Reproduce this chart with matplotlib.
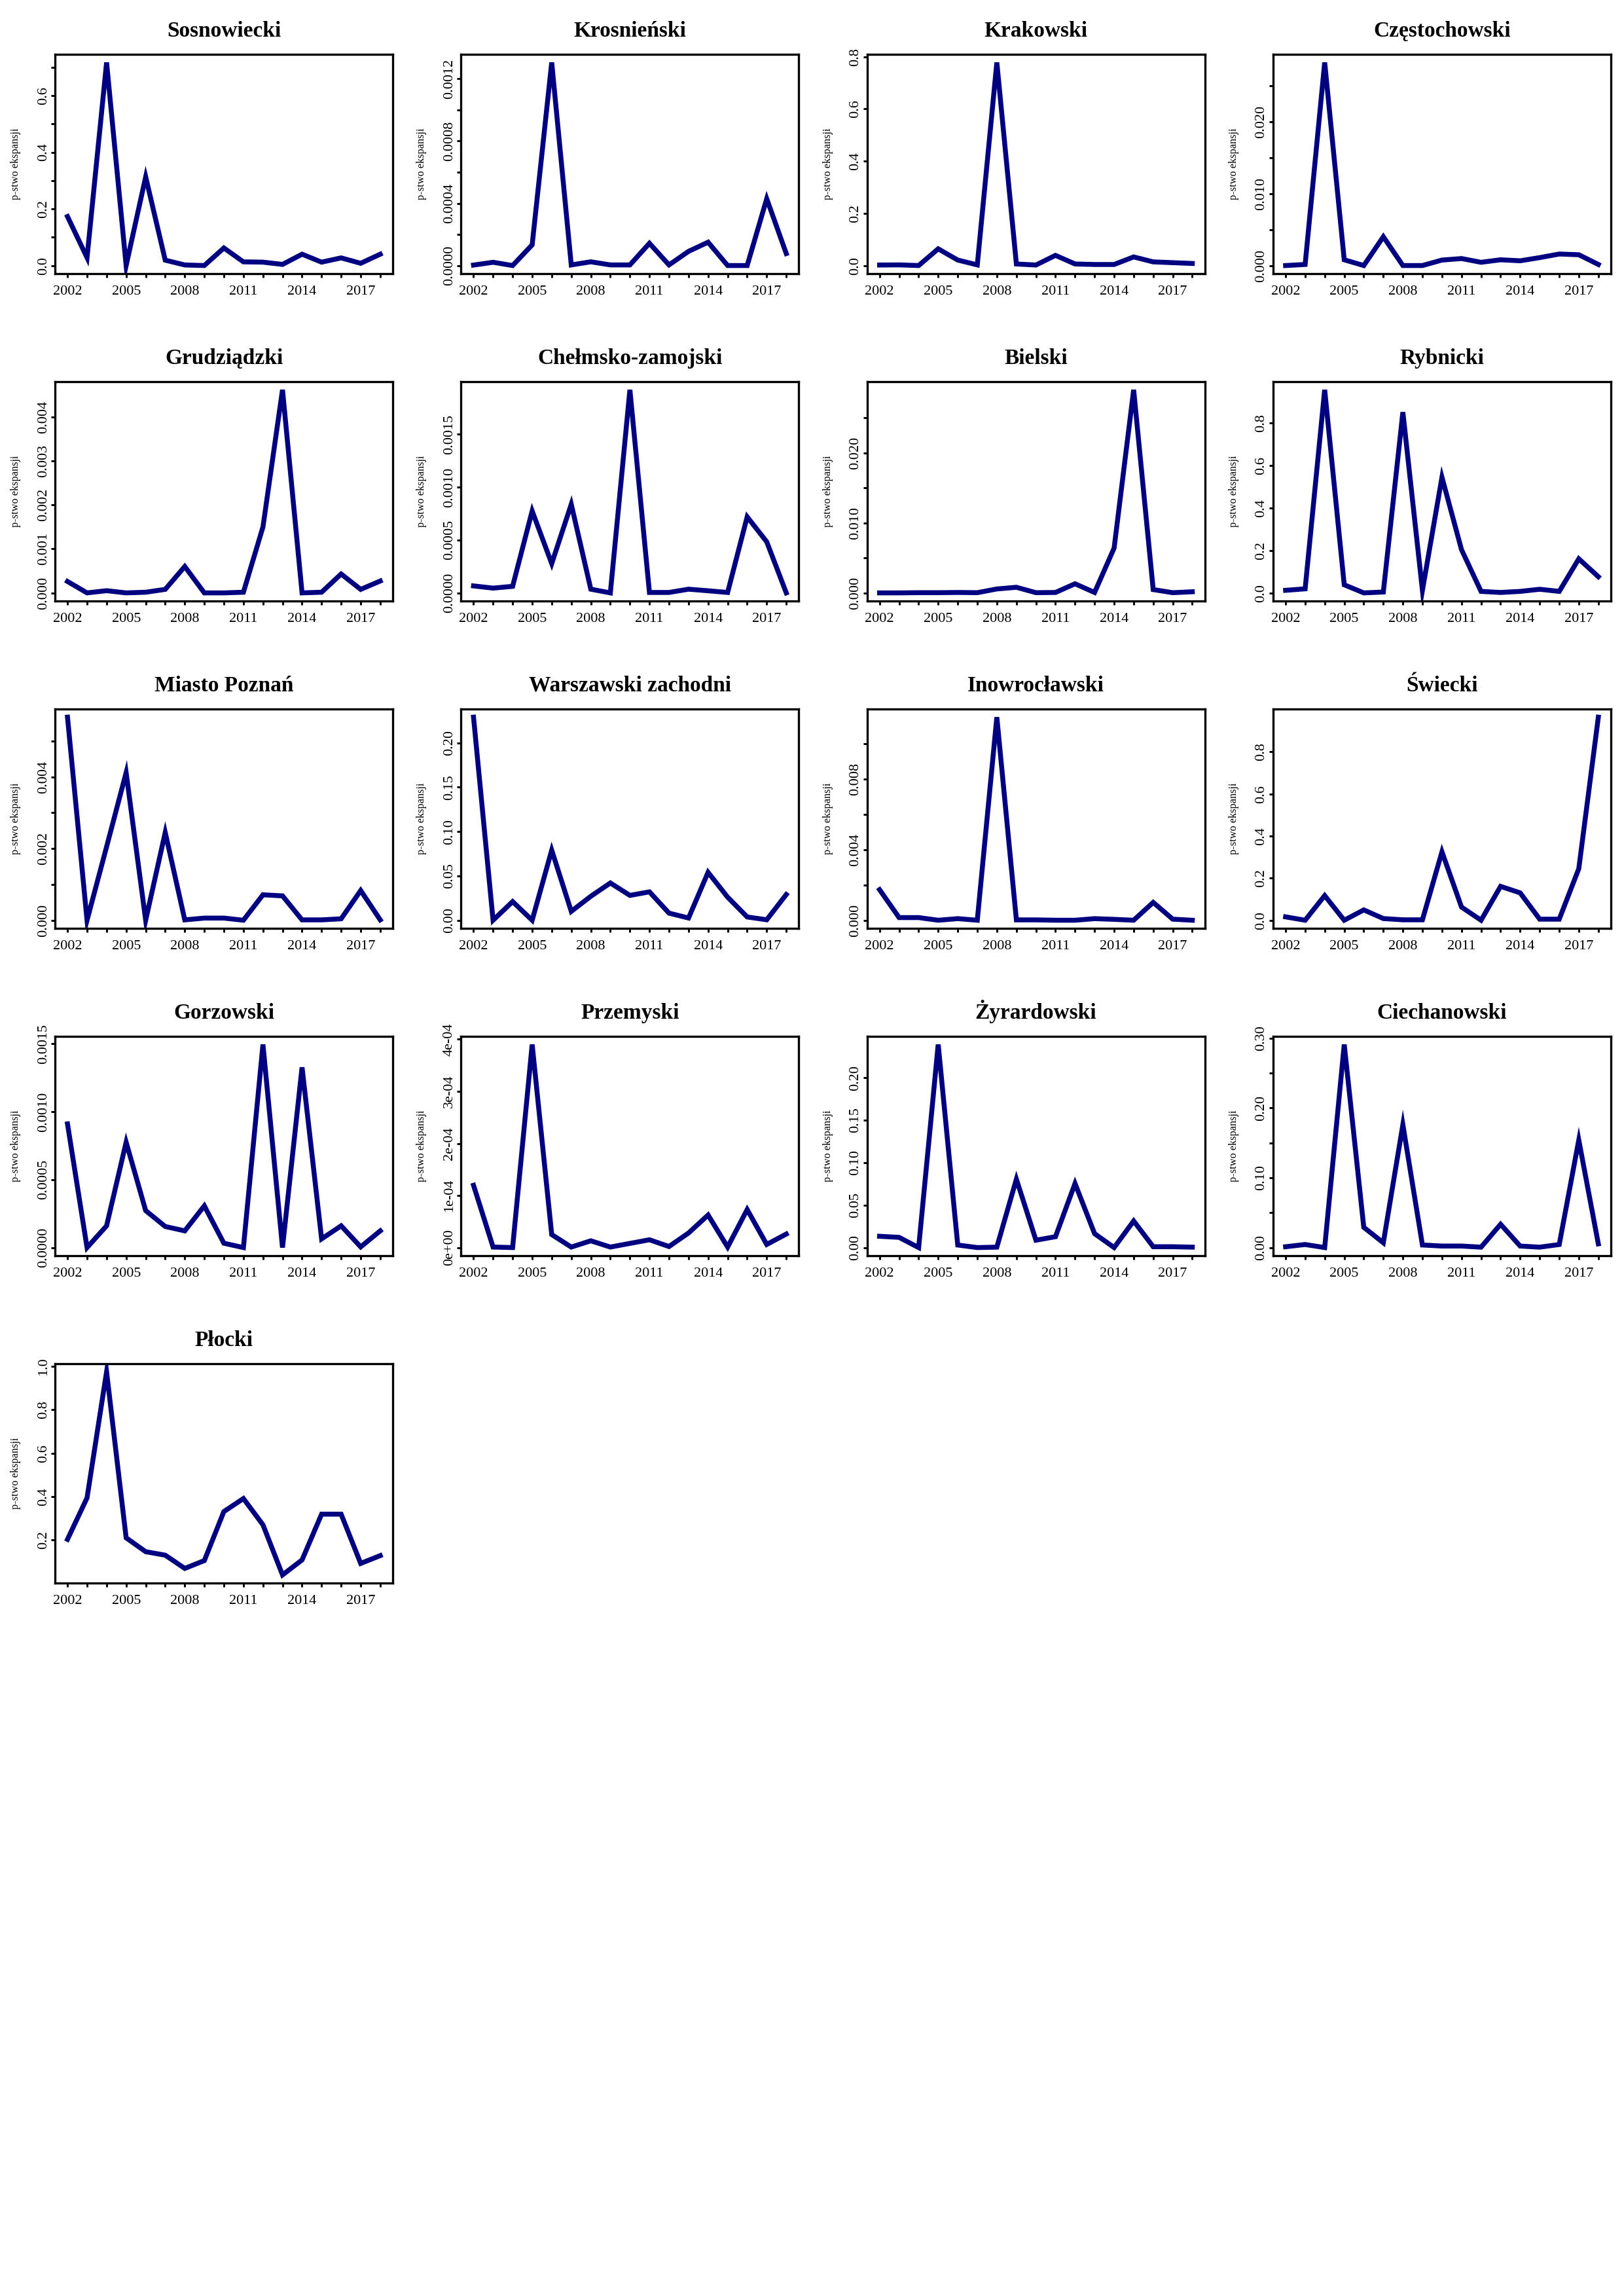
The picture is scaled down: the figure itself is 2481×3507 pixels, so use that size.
import matplotlib
matplotlib.use("Agg")
import matplotlib.pyplot as plt
import numpy as np

plt.rcParams["font.family"] = ["Liberation Serif", "DejaVu Serif"]

years = list(range(2002, 2019))

# odczytane wartosci p-stwa ekspansji dla kazdego podregionu
sosnowiecki = [0.173, 0.028, 0.717, 0.0, 0.313, 0.019, 0.002, 0.0, 0.062, 0.013,
               0.012, 0.004, 0.040, 0.012, 0.027, 0.008, 0.040]
krosnienski = [0.000003, 0.000021, 0.0, 0.000133, 0.001305, 0.000004, 0.000024,
               0.000004, 0.000004, 0.000143, 0.000004, 0.000091, 0.00015, 0.0,
               0.0, 0.000429, 0.000077]
krakowski = [0.002, 0.0025, 0.0, 0.064, 0.021, 0.0025, 0.778, 0.006, 0.002, 0.039,
             0.006, 0.004, 0.004, 0.033, 0.014, 0.011, 0.008]
czestochowski = [0.0, 0.00015, 0.0282, 0.0008, 0.0, 0.004, 0.0, 0.0, 0.00076,
                 0.00097, 0.00045, 0.0008, 0.00066, 0.0011, 0.0016, 0.0015, 0.00015]
grudziadzki = [0.00026, 0.0, 0.00005, 0.0, 0.000015, 0.00008, 0.0006, 0.0, 0.0,
               0.000015, 0.0015, 0.00462, 0.0, 0.000015, 0.00043, 0.00008, 0.00027]
chelmsko = [0.000066, 0.000045, 0.000062, 0.000774, 0.000277, 0.000838, 0.000035,
            0.0, 0.00192, 0.000004, 0.000004, 0.000035, 0.00002, 0.000004,
            0.000719, 0.000483, 0.0]
bielski = [0.0, 0.0, 0.00003, 0.00003, 0.00006, 0.00003, 0.00056, 0.0008, 0.00003,
           0.00006, 0.0013, 0.00006, 0.0064, 0.0290, 0.00047, 0.00003, 0.00016]
rybnicki = [0.013, 0.020, 0.955, 0.039, 0.001, 0.005, 0.850, 0.013, 0.544, 0.204,
            0.008, 0.003, 0.008, 0.018, 0.008, 0.161, 0.077]
poznan = [0.00567, 0.0, 0.00205, 0.00412, 0.0, 0.00245, 0.00001, 0.00006, 0.00006,
          0.0, 0.00071, 0.00068, 0.00001, 0.00001, 0.00004, 0.00083, 0.00001]
warszawski_zach = [0.229, 0.0, 0.021, 0.0, 0.079, 0.010, 0.027, 0.042, 0.028, 0.032,
                   0.008, 0.0025, 0.054, 0.026, 0.0037, 0.0005, 0.029]
inowroclawski = [0.00173, 0.00015, 0.00015, 0.0, 0.00009, 0.0, 0.01150, 0.00002,
                 0.00002, 0.0, 0.0, 0.00009, 0.00005, 0.0, 0.00101, 0.00006, 0.0]
swiecki = [0.016, 0.0, 0.117, 0.0, 0.049, 0.008, 0.002, 0.002, 0.325, 0.0625, 0.0,
           0.161, 0.130, 0.005, 0.005, 0.245, 0.965]
gorzowski = [0.00091, 0.0, 0.00016, 0.000775, 0.000272, 0.000155, 0.000123,
             0.000307, 0.000032, 0.0, 0.001494, 0.0, 0.001326, 0.000064, 0.00016,
             0.000005, 0.000123]
przemyski = [1.196e-4, 1e-6, 0.0, 3.9e-4, 2.5e-5, 1e-6, 1.3e-5, 1e-6, 8e-6, 1.5e-5,
             2e-6, 2.8e-5, 6.25e-5, 1e-6, 7.3e-5, 6e-6, 2.6e-5]
zyrardowski = [0.0133, 0.012, 0.0, 0.239, 0.003, 0.0, 0.0005, 0.0805, 0.0087, 0.0128,
               0.0754, 0.0164, 0.0, 0.0313, 0.001, 0.001, 0.0005]
ciechanowski = [0.0012, 0.0044, 0.0, 0.291, 0.029, 0.0069, 0.176, 0.0037, 0.0022,
                0.0022, 0.0006, 0.0334, 0.0022, 0.0006, 0.0044, 0.154, 0.0053]
plocki = [0.203, 0.394, 0.975, 0.21, 0.146, 0.13, 0.069, 0.105, 0.331, 0.391, 0.27,
          0.039, 0.108, 0.319, 0.319, 0.092, 0.128]

names = ["Sosnowiecki", "Krosnieński", "Krakowski", "Częstochowski",
         "Grudziądzki", "Chełmsko-zamojski", "Bielski", "Rybnicki",
         "Miasto Poznań", "Warszawski zachodni", "Inowrocławski", "Świecki",
         "Gorzowski", "Przemyski", "Żyrardowski", "Ciechanowski", "Płocki"]
series = [sosnowiecki, krosnienski, krakowski, czestochowski, grudziadzki, chelmsko,
          bielski, rybnicki, poznan, warszawski_zach, inowroclawski, swiecki,
          gorzowski, przemyski, zyrardowski, ciechanowski, plocki]

# osie y: (start, krok, liczba podzialek, co ktora etykieta, format)
y_axes = [(0, 0.1, 8, 2, "{:.1f}"), (0, 0.0002, 7, 2, "{:.4f}"),
          (0, 0.2, 5, 1, "{:.1f}"), (0, 0.005, 6, 2, "{:.3f}"),
          (0, 0.001, 5, 1, "{:.3f}"), (0, 0.0005, 4, 1, "{:.4f}"),
          (0, 0.005, 6, 2, "{:.3f}"), (0, 0.2, 5, 1, "{:.1f}"),
          (0, 0.001, 6, 2, "{:.3f}"), (0, 0.05, 5, 1, "{:.2f}"),
          (0, 0.002, 6, 2, "{:.3f}"), (0, 0.2, 5, 1, "{:.1f}"),
          (0, 0.0005, 4, 1, "{:.4f}"), (0, 0.0001, 5, 1, "sci"),
          (0, 0.05, 5, 1, "{:.2f}"), (0, 0.05, 7, 2, "{:.2f}"),
          (0.2, 0.2, 5, 1, "{:.1f}")]

W, H = 2481, 3507
fig = plt.figure(figsize=(W / 300, H / 300), dpi=300)

for i, (name, vals) in enumerate(zip(names, series)):
    row, col = divmod(i, 4)
    left = 84 + col * 620.3
    top = 83 + row * 500
    ax = fig.add_axes([left / W, 1 - (top + 335) / H, 516 / W, 335 / H])
    ax.plot(years, vals, color="#000080", lw=1.8, solid_joinstyle="miter")
    ax.margins(x=0.04, y=0.04)

    ax.set_xticks(years)
    ax.set_xticklabels([str(y) if (y - 2002) % 3 == 0 else "" for y in years])

    start, step, n, every, fmt = y_axes[i]
    ticks = start + step * np.arange(n)
    labels = []
    for k, t in enumerate(ticks):
        if k % every:
            labels.append("")
        elif fmt == "sci":
            labels.append("%de%s" % (round(t / 1e-4), "+00" if k == 0 else "-04"))
        else:
            labels.append(fmt.format(t))
    ax.set_yticks(ticks)
    ax.set_yticklabels(labels, rotation=90, va="center")

    ax.tick_params(axis="both", direction="out", length=1.4, width=0.7,
                   labelsize=5.3)
    ax.tick_params(axis="x", pad=2.8)
    ax.tick_params(axis="y", pad=0.6)
    for s in ax.spines.values():
        s.set_linewidth(0.8)

    ax.set_title(name, fontsize=8, fontweight="bold", pad=6.5)
    ax.set_ylabel("p-stwo ekspansji", fontsize=3.9)
    ax.yaxis.set_label_coords(-52 / 516, 0.5)

fig.savefig("out.png", dpi=300, facecolor="white")
